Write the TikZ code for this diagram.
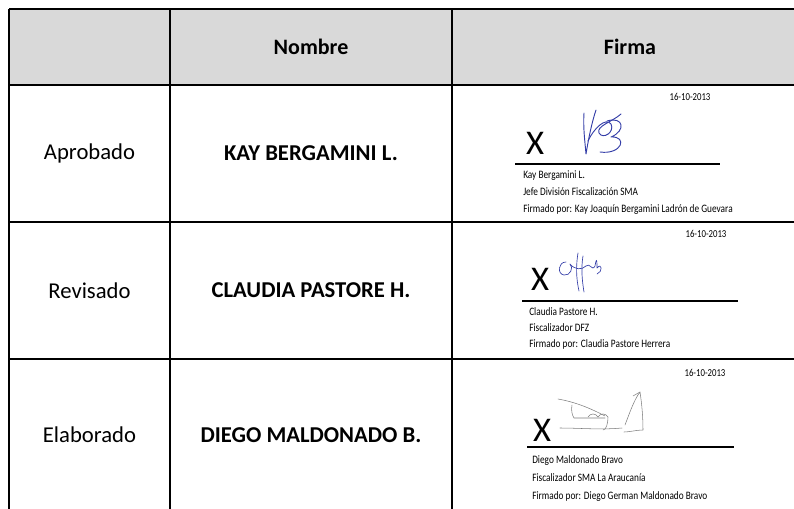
\documentclass[tikz,border=0pt]{standalone}
\usepackage{fontspec}
\setmainfont{Carlito}
\newfontfamily\sigfont[FakeStretch=0.82]{Carlito}
\usepackage{tikz}
\usetikzlibrary{positioning, calc}
\definecolor{headgray}{RGB}{217, 217, 217}
\definecolor{inkblue}{RGB}{52, 62, 168}
\definecolor{inkgray}{RGB}{125, 125, 125}
\tikzset{
    gridline/.style={line width=1.5pt, black},
    headtext/.style={font=\fontsize{16.5}{19}\selectfont\bfseries},
    roletext/.style={font=\fontsize{17}{20}\selectfont},
    nametext/.style={font=\fontsize{17}{20}\selectfont\bfseries},
    markx/.style={font=\fontsize{26}{28}\selectfont, inner sep=0pt},
    datetext/.style={font=\sigfont\fontsize{8}{9}\selectfont, inner sep=0pt},
    signline/.style={line width=1.5pt, black},
    signtext/.style={font=\sigfont\fontsize{8.5}{10}\selectfont, anchor=base west, inner sep=0pt},
    ink/.style={inkblue, line width=0.7pt, line cap=round, line join=round},
    pencil/.style={inkgray, line width=0.4pt, line cap=round, line join=round},
}

\begin{document}
\begin{tikzpicture}[x=0.75pt, y=-0.75pt]
    \useasboundingbox (0,0) rectangle (794,508);
    \clip (0,0) rectangle (794,508);

    % Header band
    \fill[headgray] (9,9) rectangle (808,85);

    % Table grid
    \foreach \y in {9, 85, 222, 359, 511}
        \draw[gridline] (9,\y) -- (808,\y);
    \foreach \x in {9, 170, 452, 808}
        \draw[gridline] (\x,9) -- (\x,511);

    % Header texts
    \node[headtext] (hdname) at (311,47) {Nombre};
    \node[headtext] (hdsign) at (630,47) {Firma};

    % Roles and names
    \node[roletext] (role1) at (89.5,153.5) {Aprobado};
    \node[roletext] (role2) at (89.5,290.5) {Revisado};
    \node[roletext] (role3) at (89.5,435) {Elaborado};
    \node[nametext] (name1) at (311,153.5) {KAY BERGAMINI L.};
    \node[nametext] (name2) at (311,290.5) {CLAUDIA PASTORE H.};
    \node[nametext] (name3) at (311,435) {DIEGO MALDONADO B.};

    % Signature block 1
    \node[datetext] (date1) at (690,97) {16-10-2013};
    \node[markx] (x1) at (535,143) {X};
    \draw[signline] (515,164) -- (720,164);
    \node[signtext] (sig1a) at (523,178.5) {Kay Bergamini L.};
    \node[signtext] (sig1b) at (523,195.5) {Jefe División Fiscalización SMA};
    \node[signtext] (sig1c) at (523,212.5) {Firmado por: Kay Joaquín Bergamini Ladrón de Guevara};
    \draw[ink] (584,113) .. controls (583,128) and (585,142) .. (586,154)
        .. controls (589,136) and (592,122) .. (596,110);
    \draw[ink] (588,141) .. controls (594,128) and (606,117) .. (611,124)
        .. controls (615,132) and (603,140) .. (599,133)
        .. controls (596,126) and (612,122) .. (621,114);
    \draw[ink] (600,152) .. controls (622,155) and (628,136) .. (611,137)
        .. controls (626,131) and (624,116) .. (607,121);

    % Signature block 2
    \node[datetext] (date2) at (706,234) {16-10-2013};
    \node[markx] (x2) at (540,279) {X};
    \draw[signline] (522,301) -- (738,301);
    \node[signtext] (sig2a) at (529,315) {Claudia Pastore H.};
    \node[signtext] (sig2b) at (529,331) {Fiscalizador DFZ};
    \node[signtext] (sig2c) at (529,347) {Firmado por: Claudia Pastore Herrera};
    \draw[ink, line width=0.5pt] (566,262) .. controls (558,262) and (557,274) .. (564,275)
        .. controls (570,276) and (574,268) .. (570,264)
        .. controls (575,270) and (582,270) .. (586,266);
    \draw[ink, line width=0.5pt] (578,253) .. controls (576,265) and (576,278) .. (579,291);
    \draw[ink, line width=0.5pt] (583,256) .. controls (581,268) and (582,280) .. (584,292);
    \draw[ink, line width=0.5pt] (586,266) .. controls (590,262) and (592,272) .. (595,266)
        .. controls (596,260) and (597,256) .. (597,268)
        .. controls (602,262) and (603,272) .. (597,274);

    % Signature block 3
    \node[datetext] (date3) at (705,373) {16-10-2013};
    \node[markx] (x3) at (542,430) {X};
    \draw[line width=0.8pt] (527,447) -- (734,447);
    \node[signtext] (sig3a) at (532,463) {Diego Maldonado Bravo};
    \node[signtext] (sig3b) at (532,481) {Fiscalizador SMA La Araucanía};
    \node[signtext] (sig3c) at (532,499.5) {Firmado por: Diego German Maldonado Bravo};
    \draw[pencil] (558,399) .. controls (575,402) and (590,408) .. (605,416);
    \draw[pencil] (572,405) .. controls (571,410) and (572,415) .. (574,418)
        .. controls (590,418) and (600,418) .. (605,418);
    \draw[pencil] (588,417) .. controls (590,413) and (596,413) .. (598,417)
        .. controls (600,413) and (606,413) .. (608,417)
        .. controls (608,424) and (606,430) .. (603,430);
    \draw[pencil] (560,428) .. controls (580,428) and (600,430) .. (622,428);
    \draw[pencil] (625,425) .. controls (630,412) and (634,400) .. (640,392)
        .. controls (642,405) and (643,418) .. (643,430)
        .. controls (636,430) and (630,432) .. (624,432);
    \draw[pencil] (633,396) -- (640,392);
\end{tikzpicture}
\end{document}
